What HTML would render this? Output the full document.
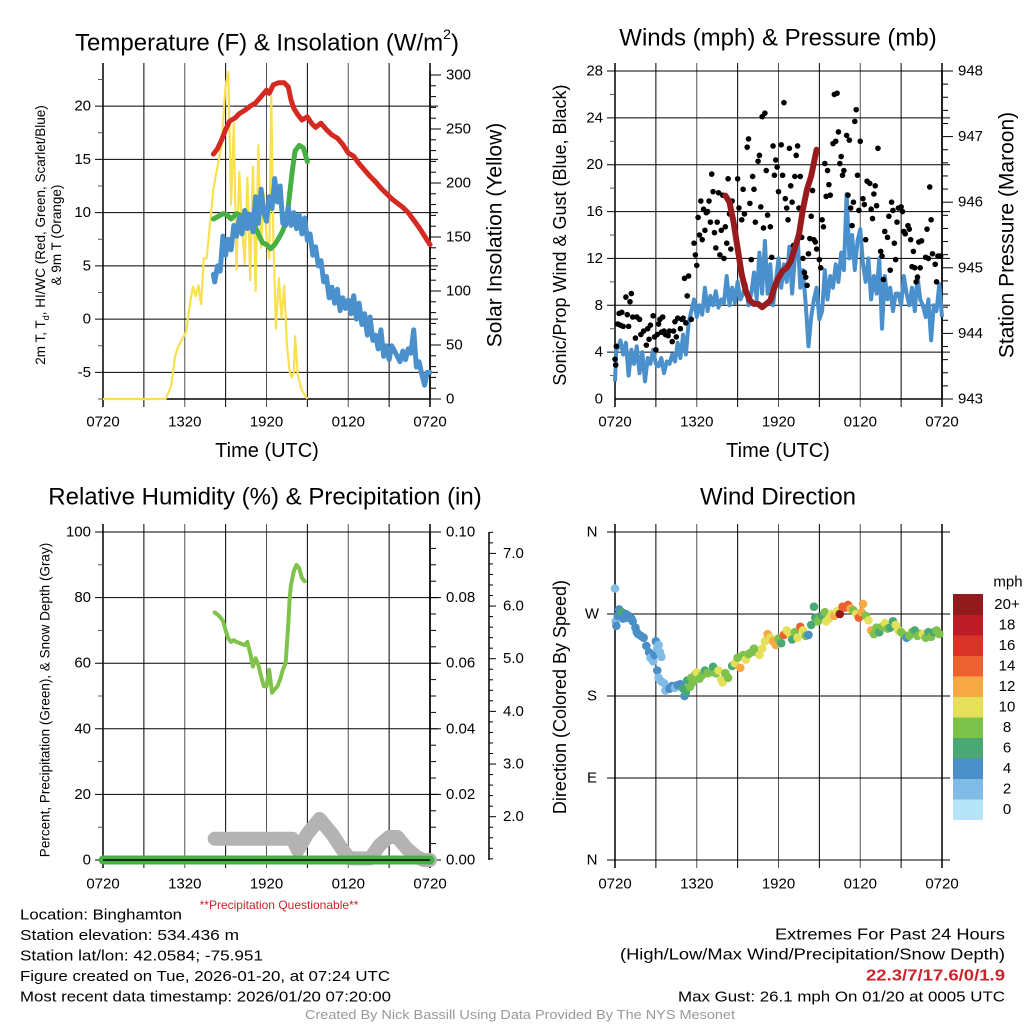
<!DOCTYPE html>
<html><head><meta charset="utf-8"><style>
html,body{margin:0;padding:0;background:#fff;}
svg{display:block;font-family:"Liberation Sans",sans-serif;}
</style></head><body>
<svg id="root" width="1024" height="1024" viewBox="0 0 1024 1024" xmlns="http://www.w3.org/2000/svg">
<g id="g"></g>
</svg>
<script>
// ---- Data (time in hours after 0720 UTC) ----
const xTickLabels = ["0720","1320","1920","0120","0720"];
const tempTicks = [-5,0,5,10,15,20];
const solarTicks = [0,50,100,150,200,250,300];
const windTicks = [0,4,8,12,16,20,24,28];
const presTicks = [943,944,945,946,947,948];
const rhTicks = [0,20,40,60,80,100];
const precipTicks = ["0.00","0.02","0.04","0.06","0.08","0.10"];
const snowTicks = ["2.0","3.0","4.0","5.0","6.0","7.0"];
const dirTickLabels = ["N","E","S","W","N"];
const cbLabels = ["0","2","4","6","8","10","12","14","16","18","20+"];
const cbColors = ["#b5e3f7","#80bce6","#4a8fc7","#4aa874","#7dc24b","#e5e05a","#f6a945","#ec612f","#da3328","#bb1c26","#911a1d"];

const redT = [8.1,8.4,8.7,9.0,9.3,9.7,10.0,10.4,10.8,11.2,11.6,12.0,12.2,12.5,12.9,13.3,13.6,13.8,14.0,14.3,14.6,15.0,15.3,15.6,16.0,16.4,16.8,17.2,17.6,18.0,18.4,18.8,19.2,19.6,20.0,20.4,20.8,21.2,21.6,22.0,22.4,22.8,23.2,23.6,24.0];
const redV = [15.5,16.0,16.8,17.8,18.6,18.9,19.3,19.6,20.0,20.3,20.9,21.5,21.2,22.0,22.2,22.2,21.8,20.6,19.8,19.2,18.7,19.0,18.4,18.0,18.4,17.8,17.3,17.0,16.4,15.6,15.3,14.6,14.0,13.4,12.9,12.3,11.8,11.3,10.9,10.5,10.0,9.3,8.6,7.8,7.0];
const greenT = [8.1,8.4,8.8,9.1,9.4,9.8,10.2,10.6,11.0,11.4,11.7,12.0,12.3,12.6,12.9,13.2,13.5,13.7,13.9,14.1,14.4,14.7,15.0];
const greenV = [9.4,9.6,9.9,9.8,9.4,9.9,9.7,9.9,9.2,8.0,7.2,7.0,6.6,7.0,7.6,8.3,9.4,11.8,14.0,15.8,16.3,16.1,14.8];
const blueT = [8.1,8.2,8.4,8.6,8.8,9.0,9.2,9.4,9.6,9.8,10.0,10.2,10.4,10.6,10.8,11.0,11.2,11.4,11.6,11.8,12.0,12.2,12.4,12.6,12.8,13.0,13.2,13.4,13.6,13.8,14.0,14.2,14.4,14.6,14.8,15.0,15.2,15.4,15.6,15.8,16.0,16.2,16.4,16.6,16.8,17.0,17.2,17.4,17.6,17.8,18.0,18.2,18.4,18.6,18.8,19.0,19.2,19.4,19.6,19.8,20.0,20.2,20.4,20.6,20.8,21.0,21.2,21.4,21.6,21.8,22.0,22.2,22.4,22.6,22.8,23.0,23.2,23.4,23.6,23.8,24.0];
const blueV = [4.2,3.5,5.0,4.5,7.8,6.0,7.5,6.5,8.8,7.8,9.5,8.0,10.2,8.5,9.8,8.2,11.5,9.0,12.2,10.0,9.2,11.5,10.4,13.2,11.0,12.5,9.0,8.8,10.5,8.8,10.0,8.5,9.8,8.0,9.5,7.4,8.0,6.0,6.8,5.0,5.5,3.5,4.0,2.0,3.0,1.5,2.8,0.8,2.0,1.0,1.8,0.5,2.2,0.0,1.5,-0.5,0.5,-1.5,0.2,-2.0,-1.5,-2.8,-1.0,-3.5,-2.5,-3.8,-2.5,-3.0,-3.5,-4.0,-3.0,-3.8,-2.8,-3.2,-1.0,-4.5,-4.0,-5.2,-6.2,-5.0,-5.0];
const solarT = [0,4.6,5.0,5.3,5.5,5.8,6.1,6.4,6.6,6.8,7.0,7.2,7.4,7.6,7.8,8.1,8.4,8.7,9.0,9.2,9.4,9.6,9.8,10.0,10.2,10.4,10.6,10.8,11.0,11.2,11.4,11.6,11.8,12.0,12.2,12.35,12.5,12.7,12.9,13.1,13.3,13.5,13.7,13.85,14.0,14.1,14.3,14.6,15.0];
const solarV = [0,0,12,40,48,55,62,90,104,95,105,88,130,130,155,195,215,235,290,303,180,255,120,210,160,125,205,110,215,100,235,140,190,150,130,280,150,65,112,75,105,50,25,20,25,58,22,8,0];

const wT = [0,0.1,0.2,0.4,0.6,0.8,1.0,1.2,1.4,1.6,1.8,2.0,2.2,2.4,2.6,2.8,3.0,3.2,3.4,3.6,3.8,4.0,4.2,4.4,4.6,4.8,5.0,5.2,5.4,5.6,5.8,6.0,6.2,6.4,6.6,6.8,7.0,7.2,7.4,7.6,7.8,8.0,8.2,8.4,8.6,8.8,9.0,9.2,9.4,9.6,9.8,10.0,10.2,10.4,10.6,10.8,11.0,11.2,11.4,11.6,11.8,12.0,12.2,12.4,12.6,12.8,13.0,13.2,13.4,13.6,13.8,14.0,14.2,14.4,14.6,14.8,15.0,15.2,15.4,15.6,15.8,16.0,16.2,16.4,16.6,16.8,17.0,17.2,17.4,17.6,17.8,18.0,18.2,18.4,18.6,18.8,19.0,19.2,19.4,19.6,19.8,20.0,20.2,20.4,20.6,20.8,21.0,21.2,21.4,21.6,21.8,22.0,22.2,22.4,22.6,22.8,23.0,23.2,23.4,23.6,23.8,24.0];
const wV = [1.5,4.5,4.3,5.0,3.8,4.8,2.0,4.2,3.0,4.5,2.2,4.0,1.5,3.5,3.0,4.2,3.0,2.8,3.5,2.2,3.2,3.0,3.8,3.2,4.8,3.5,5.5,3.8,6.5,7.5,8.5,7.0,8.0,7.2,9.5,7.5,8.8,8.0,9.2,7.8,8.5,8.2,10.5,8.0,9.5,8.2,10.0,8.5,9.0,9.8,8.0,9.0,10.8,8.5,12.5,9.0,13.5,9.0,11.5,8.0,10.0,12.0,9.5,11.5,10.0,13.0,9.0,12.0,14.0,9.5,11.0,8.0,4.5,7.0,8.5,9.5,6.8,7.5,11.0,8.5,10.5,9.5,11.5,10.0,12.5,11.0,17.5,12.0,14.0,11.0,13.5,14.5,11.5,10.0,12.0,8.5,10.5,9.0,12.0,6.0,10.5,8.5,9.5,7.5,9.0,9.0,8.0,10.5,9.0,8.0,9.5,7.5,10.5,8.5,8.0,7.0,8.5,5.0,8.0,7.5,9.8,7.0];
const presT = [8.1,8.4,8.7,9.0,9.3,9.6,9.9,10.2,10.5,10.8,11.1,11.4,11.7,12.0,12.3,12.6,12.9,13.2,13.5,13.8,14.1,14.4,14.6,14.8];
const presV = [946.1,946.0,945.7,945.3,944.9,944.65,944.5,944.45,944.45,944.4,944.45,944.5,944.7,944.85,944.95,945.0,945.1,945.3,945.5,945.9,946.2,946.4,946.6,946.8];
const gustT = [0.0,0.05,0.1,0.2,0.3,0.4,0.5,0.6,0.8,0.9,1.0,1.1,1.2,1.3,1.5,1.6,1.8,1.9,2.1,2.3,2.4,2.5,2.6,2.8,2.9,3.0,3.1,3.2,3.3,3.4,3.5,3.6,3.7,3.9,4.0,4.2,4.3,4.4,4.5,4.6,4.8,4.9,5.0,5.1,5.2,5.3,5.4,5.6,5.8,5.9,6.0,6.1,6.2,6.3,6.4,6.5,6.6,6.7,6.8,6.9,7.0,7.1,7.2,7.3,7.4,7.5,7.6,7.7,7.8,7.9,8.0,8.1,8.2,8.3,8.4,8.5,8.6,8.8,9.0,9.1,9.3,9.4,9.5,9.7,9.8,9.9,10.0,10.1,10.2,10.3,10.5,10.6,10.7,10.8,10.9,11.0,11.1,11.2,11.4,11.5,11.6,11.7,11.8,11.9,12.0,12.2,12.3,12.4,12.5,12.6,12.7,12.8,12.9,13.0,13.1,13.2,13.3,13.4,13.5,13.6,13.7,13.8,13.9,14.0,14.1,14.2,14.3,14.4,14.5,14.6,14.7,14.8,15.0,15.1,15.2,15.3,15.4,15.5,15.6,15.7,15.8,16.0,16.1,16.2,16.3,16.4,16.5,16.6,16.7,16.8,17.0,17.1,17.2,17.3,17.4,17.5,17.6,17.7,17.8,17.9,18.0,18.2,18.3,18.4,18.5,18.7,18.8,18.9,19.0,19.1,19.2,19.3,19.5,19.6,19.7,19.8,20.0,20.1,20.2,20.3,20.4,20.5,20.6,20.7,20.8,21.0,21.1,21.2,21.3,21.5,21.6,21.7,21.8,21.9,22.0,22.1,22.2,22.3,22.4,22.5,22.8,22.9,23.0,23.1,23.2,23.3,23.5,23.6,23.7,23.9];
const gustV = [3.4,2.9,4.5,6.4,7.3,6.3,7.4,6.2,8.7,7.2,6.2,8.3,9.0,7.0,5.2,7.0,6.8,5.5,5.8,4.6,6.0,5.1,6.3,7.1,5.3,4.2,5.5,6.4,6.8,5.7,7.0,5.8,5.5,5.4,5.8,4.9,5.8,6.6,5.3,6.9,6.0,6.8,6.9,10.3,6.5,8.8,10.5,6.8,13.3,12.3,11.4,15.5,14.0,16.9,13.6,16.2,14.4,15.9,16.0,16.9,15.1,19.2,17.7,14.2,12.9,15.1,17.6,12.3,14.4,17.4,12.0,14.7,13.3,18.8,15.8,12.8,16.9,14.7,18.8,16.3,15.3,17.9,15.8,21.5,22.2,16.7,11.9,19.0,17.9,15.1,20.3,20.8,16.4,24.1,14.6,24.4,19.5,15.7,14.7,12.1,21.6,19.1,20.4,19.8,17.7,21.7,19.1,25.3,17.1,16.3,15.3,21.4,18.2,16.8,13.1,19.0,20.8,21.6,16.3,19.0,13.8,12.0,10.8,10.4,9.7,12.4,13.7,15.6,17.8,13.6,13.4,12.8,11.9,11.2,15.3,14.7,20.1,17.3,19.5,18.3,17.4,21.8,26.0,22.0,26.1,22.8,20.1,20.7,19.1,19.5,22.5,17.4,22.1,16.3,14.8,16.8,23.7,24.7,19.1,16.1,22.0,17.1,16.6,13.6,18.6,18.4,16.2,15.4,17.5,18.2,16.5,21.4,12.6,12.2,10.2,14.3,13.8,15.6,11.0,16.8,16.1,13.3,11.9,15.1,16.3,16.4,16.0,14.3,14.1,14.8,14.5,13.6,11.3,12.6,11.2,10.0,10.4,13.4,11.2,13.5,12.1,14.5,12.0,18.1,15.3,12.4,11.5,10.0,12.2,12.2];

const rhT = [8.2,8.5,8.8,9.0,9.2,9.4,9.6,9.8,10.1,10.4,10.6,10.8,11.0,11.2,11.4,11.6,11.8,12.0,12.2,12.4,12.6,12.8,13.0,13.2,13.4,13.6,13.7,13.8,14.0,14.2,14.4,14.6,14.8];
const rhV = [75.5,74.5,73,70,67.5,66.5,67,66.5,66,65.5,66.5,63,59,61.5,59.5,56,53,53,58,51,52,53,55,58,60,72,80,84,88,90,89,86,85];
const snowT = [8.2,13.9,14.3,15.0,15.9,16.8,17.6,18.1,19.6,20.3,21.0,21.6,22.3,23.0,23.5,24.0];
const snowV = [6.5,6.5,3.0,8.0,12.5,8.0,3.0,0.5,0.5,4.5,7.0,7.0,3.5,1.0,0.0,0.0];
const precipT = [0,24];
const precipV = [0,0];

const dirT = [0.0,0.05,0.1,0.2,0.3,0.4,0.5,0.6,0.8,0.9,1.0,1.2,1.3,1.5,1.6,1.7,1.9,2.1,2.3,2.5,2.6,2.8,2.9,3.0,3.1,3.2,3.3,3.4,3.1,3.2,3.4,3.6,3.7,3.8,4.0,4.2,4.4,4.6,4.8,5.0,5.1,5.2,5.3,5.5,5.6,5.7,5.9,6.0,6.2,6.4,6.6,6.8,7.0,7.2,7.4,7.6,7.8,7.9,8.1,8.3,8.6,8.8,9.0,9.2,9.4,9.6,9.8,10.0,10.2,10.4,10.6,10.8,11.0,11.2,11.4,11.6,11.8,12.0,12.2,12.4,12.6,12.8,13.0,13.2,13.4,13.6,13.8,14.0,14.2,14.4,14.6,14.7,14.9,15.0,15.2,15.4,15.5,15.7,15.9,16.1,16.3,16.5,16.7,16.9,17.1,17.3,17.5,17.7,17.9,18.1,18.2,18.4,18.6,18.8,19.0,19.2,19.4,19.6,19.8,20.0,20.2,20.4,20.6,20.8,21.0,21.2,21.4,21.6,21.8,22.0,22.2,22.4,22.6,22.8,23.0,23.2,23.4,23.6,23.8];
const dirD = [298,262,257,268,275,270,272,265,270,266,268,265,262,255,250,248,246,244,235,228,222,218,225,240,232,236,228,223,208,200,196,194,186,190,188,191,189,192,193,188,180,184,197,190,200,195,204,206,199,203,208,205,206,212,205,208,198,195,205,200,213,216,222,211,225,220,226,228,232,228,225,232,240,248,244,240,236,243,238,247,252,249,242,250,244,256,252,246,247,258,278,266,262,265,268,272,262,265,270,268,273,270,278,277,280,276,274,270,266,272,281,268,263,252,248,255,250,256,260,254,255,262,258,252,250,247,244,246,250,252,246,248,248,244,250,245,250,252,248];
const dirS = [3,2,4,4,4,4,6,4,4,4,4,4,4,4,4,4,4,4,4,4,2,2,4,4,2,2,2,2,4,2,2,2,2,2,4,4,2,4,4,6,4,6,6,8,8,8,8,10,8,8,6,8,8,6,8,10,10,10,8,8,6,10,8,12,8,10,8,8,8,8,10,10,10,12,10,12,12,8,6,14,10,10,6,8,10,14,10,8,4,6,6,6,8,8,6,8,10,10,10,12,10,20,14,14,14,12,8,10,14,12,12,8,10,12,8,8,6,8,10,8,6,6,10,10,8,8,4,8,8,6,8,8,10,8,6,8,6,8,8];

// ---- helpers ----
const NS="http://www.w3.org/2000/svg";
const G=document.getElementById('g');
function el(tag,attrs,parent){const e=document.createElementNS(NS,tag);for(const k in attrs)e.setAttribute(k,attrs[k]);(parent||G).appendChild(e);return e;}
function txt(s,x,y,size,anchor,extra){const e=el('text',Object.assign({x:x,y:y,'font-size':size,'text-anchor':anchor||'middle','dominant-baseline':'central',fill:'#000'},extra||{}));e.textContent=s;return e;}
function lin(d0,d1,r0,r1){return v=>r0+(v-d0)/(d1-d0)*(r1-r0);}
function pathD(xs,ys,fx,fy){let d='';for(let i=0;i<xs.length;i++)d+=(i?'L':'M')+fx(xs[i]).toFixed(1)+','+fy(ys[i]).toFixed(1);return d;}

function frame(x0,x1,y0,y1,hvals,fy,name,labelY){
  const fx=lin(0,24,x0,x1);
  for(let h=0;h<=24;h+=3){
    const l=el('line',{x1:fx(h),x2:fx(h),y1:y0-8,y2:y1+8,stroke:(h%6===0&&h>0&&h<24)?'#555':'#000','stroke-width':(h===0||h===24)?1.5:1});
    
    
  }
  hvals.forEach(v=>{
    const l=el('line',{x1:x0-8,x2:x1+8,y1:fy(v),y2:fy(v),stroke:'#000','stroke-width':1});
    
    
  });
  for(let i=0;i<xTickLabels.length;i++){
    const t=txt(xTickLabels[i],fx(i*6),labelY,15);
    
    
  }
  return fx;
}

// ===== Panel 1: Temperature =====
(function(){
  const x0=103,x1=430,y0=71,y1=399;
  const fy=lin(-7.5,23.3,y1,y0);
  const fs=lin(0,303.7,y1,y0);
  const fx=frame(x0,x1,y0,y1,[-5,0,5,10,15,20],fy,'temp',422);
  el('line',{x1:x0,x2:x1,y1:y1,y2:y1,stroke:'#000','stroke-width':1.5});
  for(let v=-7.5;v<=22.5;v+=2.5){if(v%5!==0){el('line',{x1:x0-5,x2:x0,y1:fy(v),y2:fy(v),stroke:'#555'});}}
  for(let v=0;v<=300;v+=10){el('line',{x1:x1,x2:x1+(v%50===0?11:6),y1:fs(v),y2:fs(v),stroke:'#000'});}
  el('line',{x1:x1,x2:x1,y1:y0,y2:y1,stroke:'#000','stroke-width':1.5});
  tempTicks.forEach(v=>{const t=txt(String(v),x0-12,fy(v),15,'end');});
  solarTicks.forEach(v=>{const t=txt(String(v),x1+16,fs(v),15,'start');});
  const sol=el('path',{d:pathD(solarT,solarV,fx,fs),fill:'none',stroke:'#f9e04f','stroke-width':2.2,'stroke-linejoin':'round'});
  
  const r=el('path',{d:pathD(redT,redV,fx,fy),fill:'none',stroke:'#d42a22','stroke-width':5,'stroke-linejoin':'round','stroke-linecap':'round'});
  
  const gr=el('path',{d:pathD(greenT,greenV,fx,fy),fill:'none',stroke:'#46b043','stroke-width':5,'stroke-linejoin':'round','stroke-linecap':'round'});
  
  const b=el('path',{d:pathD(blueT,blueV,fx,fy),fill:'none',stroke:'#4a90cc','stroke-width':5,'stroke-linejoin':'round','stroke-linecap':'round'});
  
  const ti=txt('',267,43,24);ti.innerHTML='Temperature (F) &amp; Insolation (W/m<tspan font-size="14" dy="-9">2</tspan><tspan dy="9">)</tspan>';
  
  const xt=txt('Time (UTC)',267,451,20);
  const yl=el('text',{transform:'translate(45,235) rotate(-90)','font-size':13.5,'text-anchor':'middle',fill:'#000'});
  yl.innerHTML='<tspan x="0" y="0">2m T, T<tspan font-size="9" dy="4">d</tspan><tspan dy="-4">, HI/WC (Red, Green, Scarlet/Blue)</tspan></tspan><tspan x="0" y="16">&amp; 9m T (Orange)</tspan>';
  
  const yr=txt('Solar Insolation (Yellow)',495,235,21,'middle',{transform:'rotate(-90 495 235)'});
  
})();

// ===== Panel 2: Winds =====
(function(){
  const x0=615,x1=942,y0=71,y1=399;
  const fy=lin(0,28,y1,y0);
  const fp=lin(943,948,y1,y0);
  const fx=frame(x0,x1,y0,y1,[4,8,12,16,20,24,28],fy,'wind',422);
  el('line',{x1:x0,x2:x1,y1:y1,y2:y1,stroke:'#000','stroke-width':1.5});
  for(let v=2;v<28;v+=4){el('line',{x1:x0-5,x2:x0,y1:fy(v),y2:fy(v),stroke:'#555'});}
  for(let k=0;k<=25;k++){const v=943+k*0.2;const maj=(k%5===0);el('line',{x1:x1,x2:x1+(maj?11:6),y1:fp(v),y2:fp(v),stroke:'#000'});}
  el('line',{x1:x1,x2:x1,y1:y0,y2:y1,stroke:'#000','stroke-width':1.5});
  windTicks.forEach(v=>{const t=txt(String(v),x0-12,fy(v),15,'end');});
  presTicks.forEach(v=>{const t=txt(String(v),x1+16,fp(v),15,'start');});
  const w=el('path',{d:pathD(wT,wV,fx,fy),fill:'none',stroke:'#4a90cc','stroke-width':4,'stroke-linejoin':'round'});
  
  for(let i=0;i<gustT.length;i++){
    const c=el('circle',{cx:fx(gustT[i]),cy:fy(gustV[i]),r:2.8,fill:'#000'});
    
    
  }
  const p=el('path',{d:pathD(presT,presV,fx,fp),fill:'none',stroke:'#9a1b1e','stroke-width':6,'stroke-linejoin':'round','stroke-linecap':'round'});
  
  const ti=txt('Winds (mph) & Pressure (mb)',778,38,24);
  const xt=txt('Time (UTC)',778,451,20);
  const yl=txt('Sonic/Prop Wind & Gust (Blue, Black)',560,235,18,'middle',{transform:'rotate(-90 560 235)'});
  
  const yr=txt('Station Pressure (Maroon)',1007,235,21,'middle',{transform:'rotate(-90 1007 235)'});
  
})();

// ===== Panel 3: RH & Precip =====
(function(){
  const x0=103,x1=430,y0=532,y1=860;
  const fy=lin(0,100,y1,y0);
  const fx=frame(x0,x1,y0,y1,[0,20,40,60,80,100],fy,'rh',884);
  for(let v=10;v<100;v+=20){el('line',{x1:x0-5,x2:x0,y1:fy(v),y2:fy(v),stroke:'#555'});}
  for(let v=0;v<=100;v+=5){el('line',{x1:x1,x2:x1+(v%20===0?11:6),y1:fy(v),y2:fy(v),stroke:'#000'});}
  el('line',{x1:x1,x2:x1,y1:y0,y2:y1,stroke:'#000','stroke-width':1.5});
  const fsn=lin(2,7,816.7,553.4);
  el('line',{x1:489,x2:489,y1:y0,y2:y1,stroke:'#000','stroke-width':1.5});
  for(let k=6;k<=37;k++){const v=k*0.2;const maj=(k%5===0);el('line',{x1:489,x2:489+(maj?7:4),y1:fsn(v),y2:fsn(v),stroke:'#000'});}
  rhTicks.forEach(v=>{const t=txt(String(v),x0-12,fy(v),15,'end');});
  precipTicks.forEach((s,i)=>{const t=txt(s,x1+16,fy(i*20),15,'start');});
  snowTicks.forEach((s,i)=>{const t=txt(s,503,fsn(i+2),15,'start');});
  const s=el('path',{d:pathD(snowT,snowV,fx,fy),fill:'none',stroke:'#b3b3b3','stroke-width':14,'stroke-linejoin':'round','stroke-linecap':'round'});
  
  const pr=el('path',{d:pathD(precipT,precipV,fx,fy),fill:'none',stroke:'#46b043','stroke-width':9,'stroke-linecap':'round'});
  
  el('line',{x1:x0,x2:x1,y1:y1,y2:y1,stroke:'#000','stroke-width':1.5});
  const rh=el('path',{d:pathD(rhT,rhV,fx,fy),fill:'none',stroke:'#80c34b','stroke-width':4,'stroke-linejoin':'round','stroke-linecap':'round'});
  
  const ti=txt('Relative Humidity (%) & Precipitation (in)',265,497,24);
  const yl=txt('Percent, Precipitation (Green), & Snow Depth (Gray)',45,700,13.5,'middle',{transform:'rotate(-90 45 700)'});
  
  const q=txt('**Precipitation Questionable**',279,905,12,'middle',{fill:'#cc2229'});
  
})();

// ===== Panel 4: Wind Direction =====
(function(){
  const x0=615,x1=942,y0=532,y1=860;
  const fy=lin(0,360,y1,y0);
  const fx=frame(x0,x1,y0,y1,[0,90,180,270,360],fy,'dir',884);
  dirTickLabels.forEach((s,i)=>{const t=txt(s,x0-23,fy(i*90),15,'middle');});
  function col(sp){let i=Math.floor(sp/2);if(i>10)i=10;if(i<0)i=0;return cbColors[i];}
  for(let i=0;i<dirT.length;i++){
    const c=el('circle',{cx:fx(dirT[i]),cy:fy(dirD[i]),r:4.3,fill:col(dirS[i])});
    
    
  }
  const ti=txt('Wind Direction',778,497,24);
  const yl=txt('Direction (Colored By Speed)',560,697,18,'middle',{transform:'rotate(-90 560 697)'});
  
  const cbTop=594,cbH=20.5;
  for(let i=0;i<cbColors.length;i++){
    const r=el('rect',{x:953,y:cbTop+(10-i)*cbH,width:30,height:cbH+0.5,fill:cbColors[i]});
    
    
    const t=txt(cbLabels[i],1007,cbTop+(10-i)*cbH+cbH/2,15,'middle');
    
    
  }
  const u=txt('mph',1008,582,15,'middle');
})();

// ===== footer text =====
const leftLines=[["Location: Binghamton",162],["Station elevation: 534.436 m",219],["Station lat/lon: 42.0584; -75.951",243],["Figure created on Tue, 2026-01-20, at 07:24 UTC",370],["Most recent data timestamp: 2026/01/20 07:20:00",371]];
leftLines.forEach((l,i)=>{const t=txt(l[0],20,915+i*20.5,15,'start',{textLength:l[1],lengthAdjust:'spacingAndGlyphs'});});
(function(){
  let t=txt('Extremes For Past 24 Hours',1005,935,15.5,'end',{textLength:230,lengthAdjust:'spacingAndGlyphs'});
  t=txt('(High/Low/Max Wind/Precipitation/Snow Depth)',1005,955,15.5,'end',{textLength:385,lengthAdjust:'spacingAndGlyphs'});
  t=txt('22.3/7/17.6/0/1.9',1005,976,16,'end',{fill:'#cc2229','font-weight':'bold',textLength:139,lengthAdjust:'spacingAndGlyphs'});
  t=txt('Max Gust: 26.1 mph On 01/20 at 0005 UTC',1005,997,15,'end',{textLength:327,lengthAdjust:'spacingAndGlyphs'});
  t=txt('Created By Nick Bassill Using Data Provided By The NYS Mesonet',520,1015,12.5,'middle',{fill:'#999',textLength:430,lengthAdjust:'spacingAndGlyphs'});
})();
</script>
</body></html>
